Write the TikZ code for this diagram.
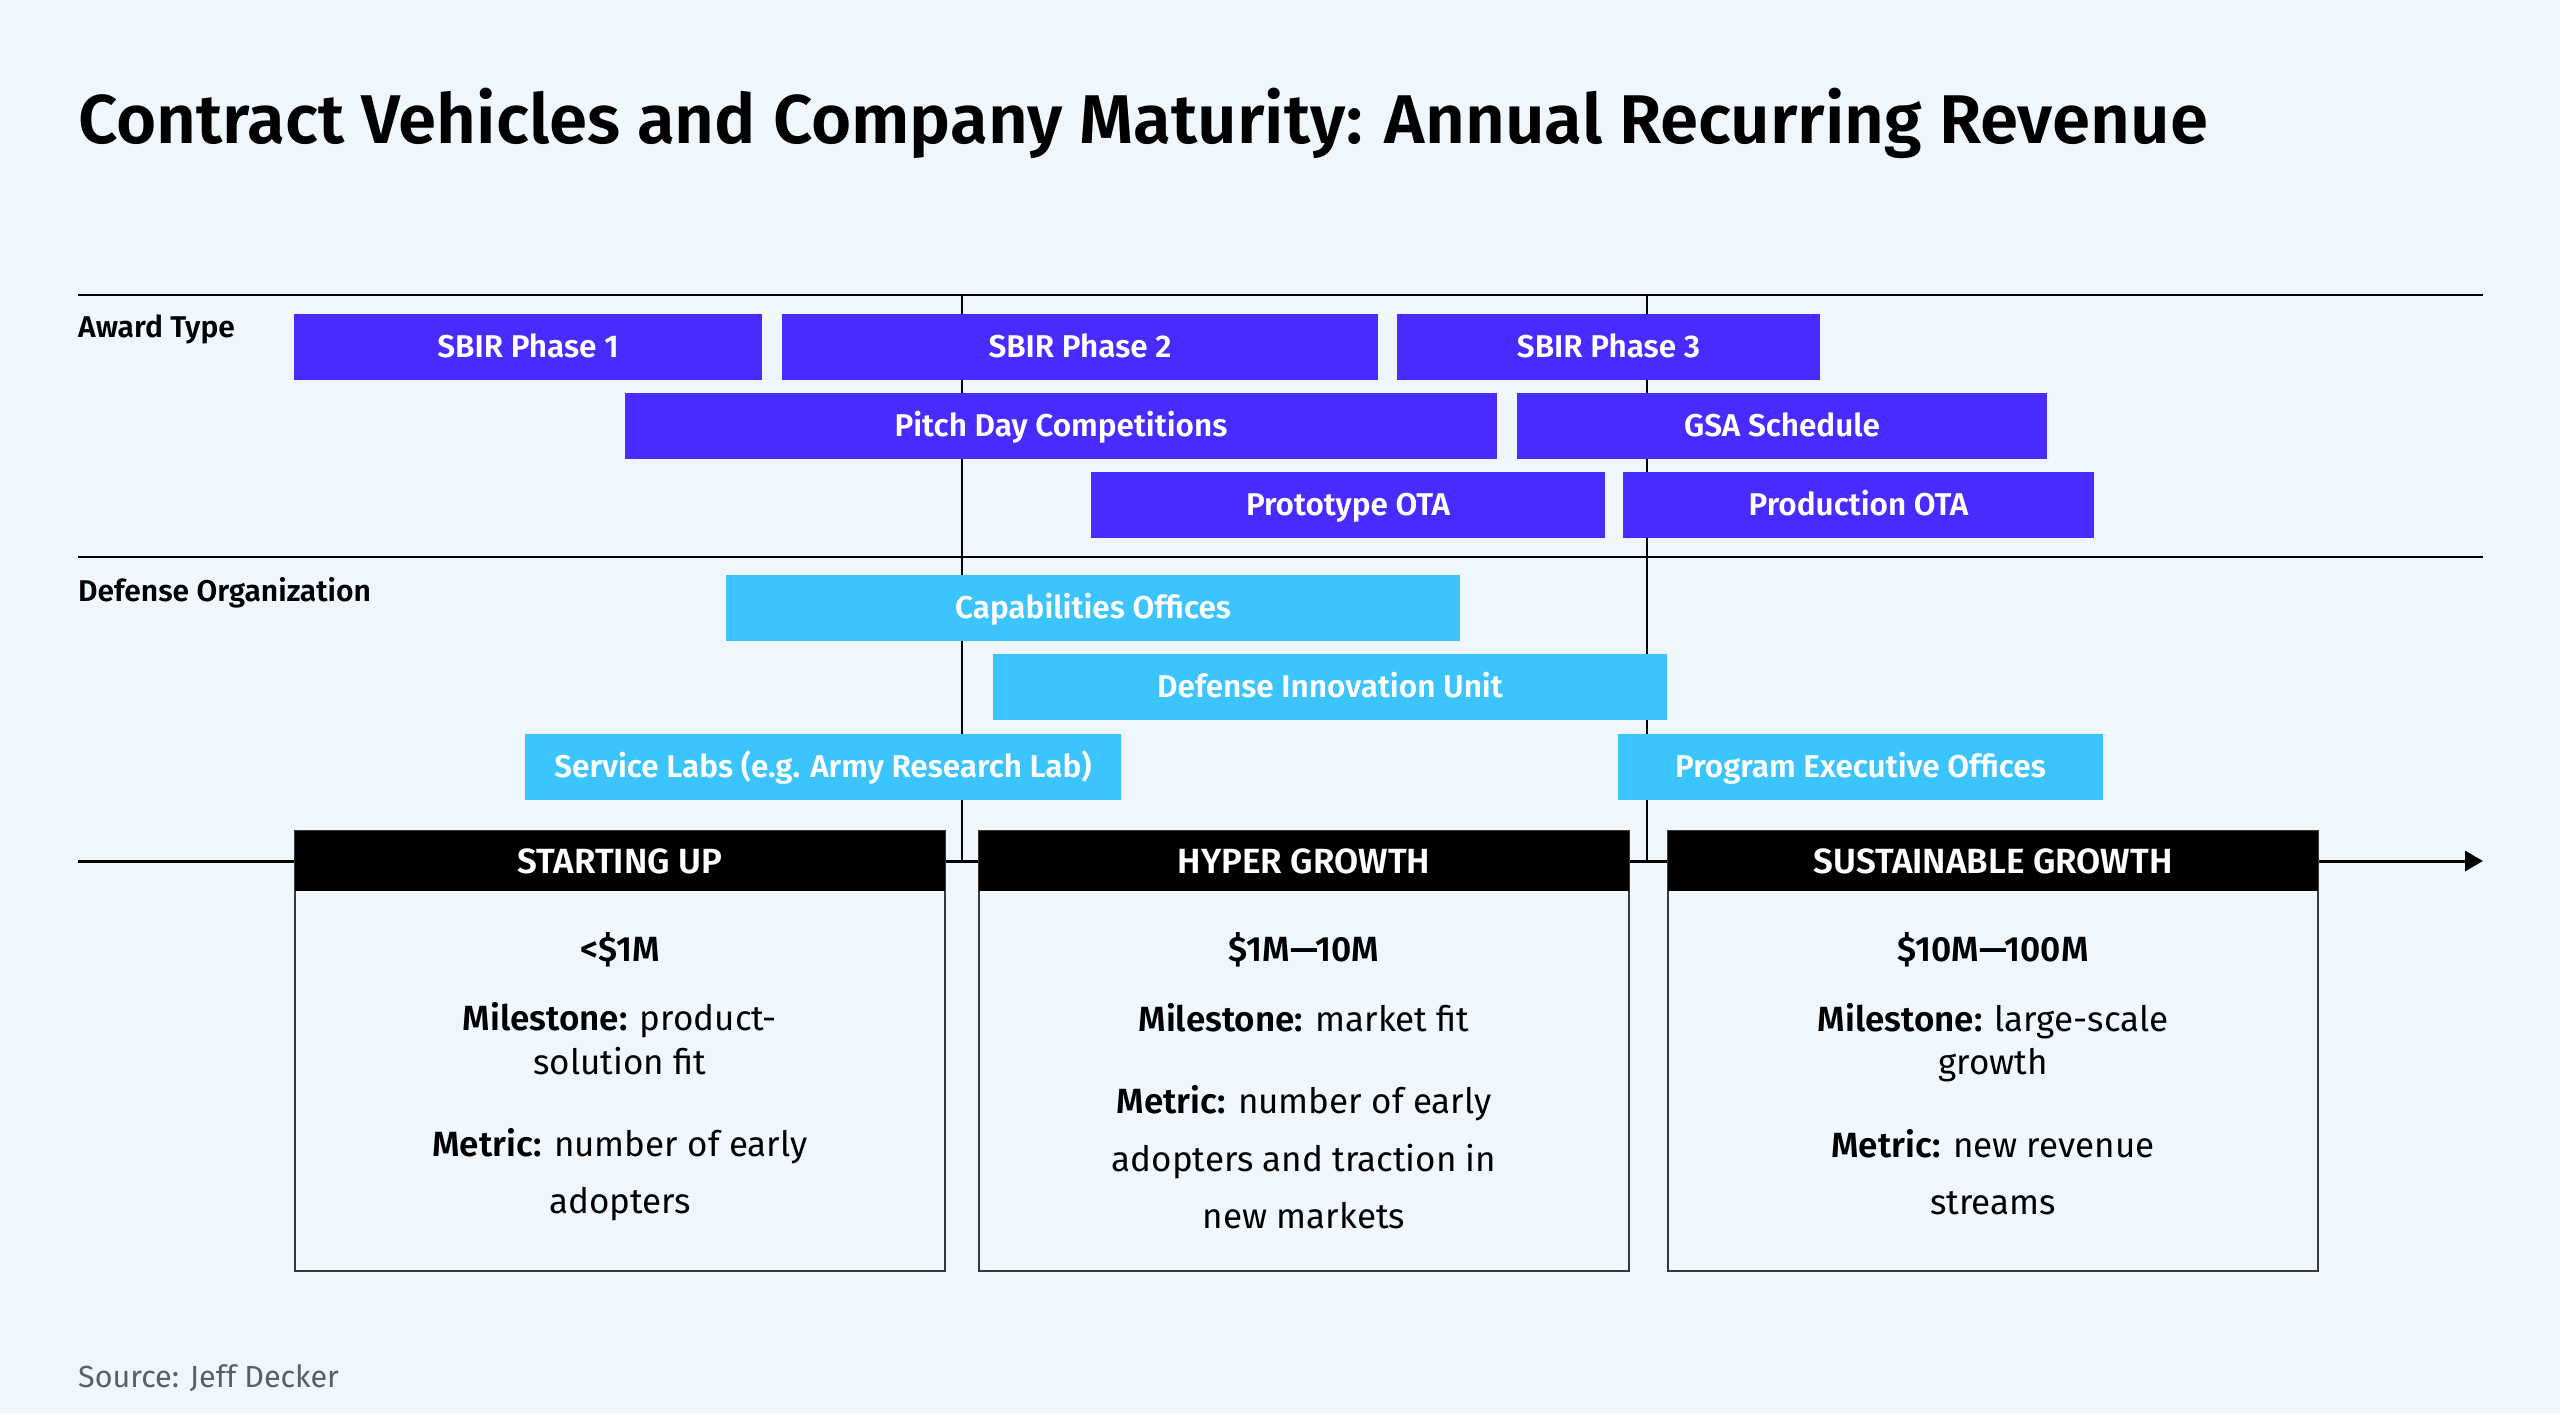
\documentclass[tikz,border=0pt]{standalone}
\usepackage{fontspec}
\IfFontExistsTF{Fira Sans SemiBold}
  {\setmainfont{Fira Sans}[BoldFont={Fira Sans SemiBold}]}
  {\setmainfont{Fira Sans}}
\usetikzlibrary{arrows.meta}
\definecolor{bgblue}{HTML}{EFF7FD}
\definecolor{awardpurple}{HTML}{4A2BFF}
\definecolor{orgblue}{HTML}{3CC4FF}
\definecolor{srcgray}{HTML}{5A5F66}
\definecolor{framegray}{HTML}{3A3A3A}
\begin{document}
\begin{tikzpicture}[x=1pt, y=-1pt,
    award/.style={fill=awardpurple, text=white, inner sep=0pt, minimum height=66,
                  text height=21.7pt, text depth=0pt,
                  font=\fontsize{31.5}{36}\selectfont\bfseries},
    org/.style={award, fill=orgblue},
    phasehead/.style={fill=black, text=white, inner sep=0pt, minimum width=650,
                      minimum height=60, text height=24pt, text depth=0pt,
                      font=\fontsize{35}{40}\selectfont\bfseries},
    phasebody/.style={draw=framegray, line width=1.5pt, fill=bgblue, inner sep=0pt,
                      minimum width=650, minimum height=440},
    txt/.style={anchor=base, inner sep=0pt, font=\fontsize{35}{40}\selectfont},
    grp/.style={anchor=base west, inner sep=0pt, font=\fontsize{30}{36}\selectfont\bfseries},
    rule/.style={line width=2pt},
    guide/.style={line width=1.5pt}
  ]
    \useasboundingbox (0,0) rectangle (2560,1414);
    \fill[bgblue] (0,0) rectangle (2560,1414);

    \node[anchor=base west, inner sep=0pt, font=\fontsize{69}{76}\selectfont\bfseries] (title) at (78,143)
      {Contract Vehicles and Company Maturity: Annual Recurring Revenue};

    % rules and guides
    \coordinate (r1a) at (78,295);  \coordinate (r1b) at (2483,295);
    \coordinate (r2a) at (78,557);  \coordinate (r2b) at (2483,557);
    \coordinate (g1a) at (962,295); \coordinate (g1b) at (962,861);
    \coordinate (g2a) at (1647,295); \coordinate (g2b) at (1647,861);
    \coordinate (tla) at (78,861);  \coordinate (tlb) at (2483,861);
    \draw[rule] (r1a) -- (r1b);
    \draw[rule] (r2a) -- (r2b);
    \draw[guide] (g1a) -- (g1b);
    \draw[guide] (g2a) -- (g2b);
    \draw[line width=3pt, -{Triangle[length=18pt, width=20pt]}] (tla) -- (tlb);

    \node[grp] (awardlbl) at (78,337) {Award Type};
    \node[grp] (orglbl)   at (78,601) {Defense Organization};

    % award types
    \node[award, minimum width=468] (sbir1) at (528,346.5)  {SBIR Phase 1};
    \node[award, minimum width=596] (sbir2) at (1080,346.5) {SBIR Phase 2};
    \node[award, minimum width=423] (sbir3) at (1608.5,346.5) {SBIR Phase 3};
    \node[award, minimum width=872] (pitch) at (1061,426)   {Pitch Day Competitions};
    \node[award, minimum width=530] (gsa)   at (1782,426)   {GSA Schedule};
    \node[award, minimum width=514] (proto) at (1348,505)   {Prototype OTA};
    \node[award, minimum width=471] (prod)  at (1858.5,505) {Production OTA};

    % defense organizations
    \node[org, minimum width=734] (capoff) at (1093,608)   {Capabilities Offices};
    \node[org, minimum width=674] (diu)    at (1330,687)   {Defense Innovation Unit};
    \node[org, minimum width=596] (labs)   at (823,767)    {Service Labs (e.g. Army Research Lab)};
    \node[org, minimum width=485] (peo)    at (1860.5,767) {Program Executive Offices};

    % maturity stages
    \node[phasebody] (startbox) at (620,1051)  {};
    \node[phasebody] (hyperbox) at (1304,1051) {};
    \node[phasebody] (sustbox)  at (1993,1051) {};
    \node[phasehead] (starthead) at (620,861)  {STARTING UP};
    \node[phasehead] (hyperhead) at (1304,861) {HYPER GROWTH};
    \node[phasehead] (susthead)  at (1993,861) {SUSTAINABLE GROWTH};

    \node[txt] (startarr) at (620,961)  {\textbf{<\$1M}};
    \node[txt] (startms1) at (620,1030) {\textbf{Milestone:} product-};
    \node[txt] (startms2) at (620,1074) {solution fit};
    \node[txt] (startme1) at (620,1156) {\textbf{Metric:} number of early};
    \node[txt] (startme2) at (620,1213) {adopters};

    \node[txt] (hyperarr) at (1304,961)  {\textbf{\$1M—10M}};
    \node[txt] (hyperms1) at (1304,1031) {\textbf{Milestone:} market fit};
    \node[txt] (hyperme1) at (1304,1113) {\textbf{Metric:} number of early};
    \node[txt] (hyperme2) at (1304,1171) {adopters and traction in};
    \node[txt] (hyperme3) at (1304,1228) {new markets};

    \node[txt] (sustarr) at (1993,961)  {\textbf{\$10M—100M}};
    \node[txt] (sustms1) at (1993,1031) {\textbf{Milestone:} large-scale};
    \node[txt] (sustms2) at (1993,1074) {growth};
    \node[txt] (sustme1) at (1993,1157) {\textbf{Metric:} new revenue};
    \node[txt] (sustme2) at (1993,1214) {streams};

    \node[anchor=base west, inner sep=0pt, text=srcgray, font=\fontsize{30.5}{36}\selectfont] (source) at (78,1387)
      {Source: Jeff Decker};
  \end{tikzpicture}
\end{document}
